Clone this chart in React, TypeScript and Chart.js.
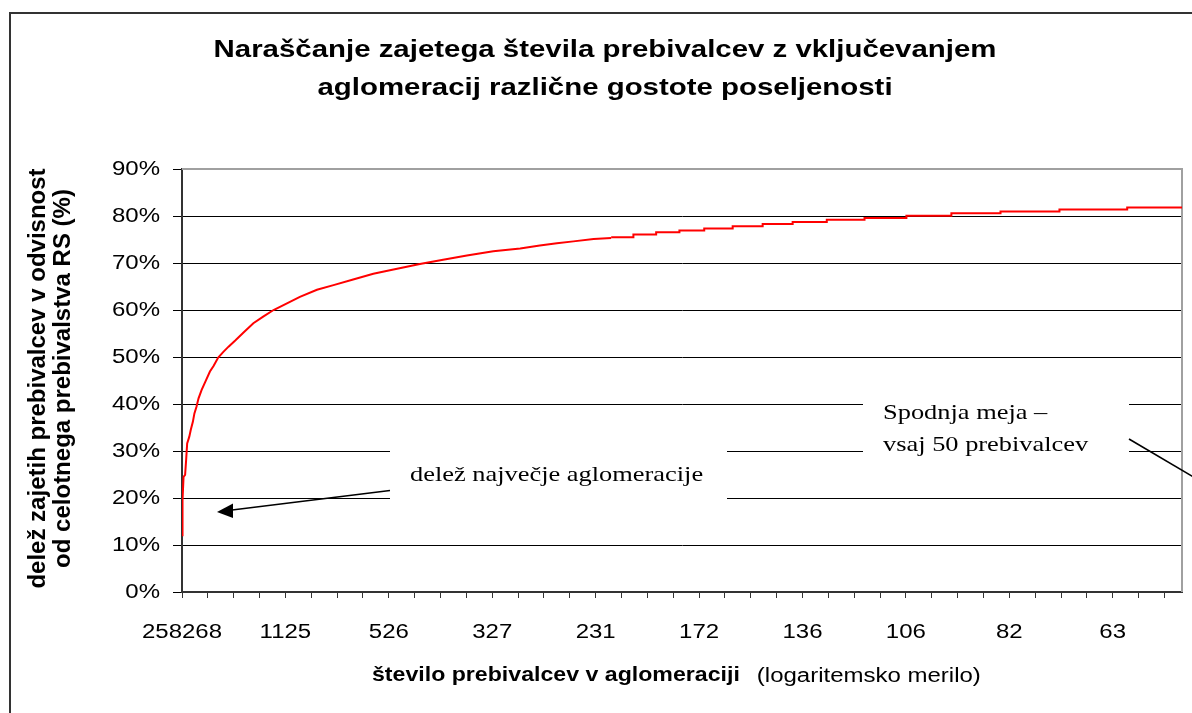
import React, { useEffect, useRef } from 'react';
import { Chart, registerables } from 'chart.js';

Chart.register(...registerables);

// ---------- data ----------
const TITLE_LINES = [
  'Naraščanje zajetega števila prebivalcev z vključevanjem',
  'aglomeracij različne gostote poseljenosti',
];
const Y_TITLE_LINES = ['delež zajetih prebivalcev v odvisnost', 'od celotnega prebivalstva RS (%)'];
const X_TITLE_BOLD = 'število prebivalcev v aglomeraciji';
const X_TITLE_NORMAL = '(logaritemsko merilo)';

// population of the agglomeration shown every 200 ranks
const X_TICK_LABELS = ['258268', '1125', '526', '327', '231', '172', '136', '106', '82', '63'];
const X_LABEL_EVERY = 200;
const X_TICK_STEP = 50;
const X_MAX = 1934; // number of agglomerations - 1

const Y_TICKS = [0, 10, 20, 30, 40, 50, 60, 70, 80, 90];

// rank of agglomeration (0 = largest) and cumulative share of population (%) — steep part
const CURVE_RANKS = [
  0, 1, 3, 6, 8, 10, 14, 17, 21, 24, 28, 32, 38, 45, 54, 61, 70, 80, 90, 103, 119, 138, 157, 177,
  203, 228, 261, 293, 331, 370, 409, 430, 460, 505, 551, 602, 654, 692, 725, 757, 796, 830,
];
const CURVE_SHARES = [
  12.1, 19.6, 24.5, 24.9, 28.1, 31.6, 33.0, 34.5, 36.2, 38.0, 39.4, 41.2, 43.0, 44.7, 46.9, 48.1,
  49.9, 51.1, 52.2, 53.5, 55.2, 57.2, 58.6, 60.0, 61.4, 62.8, 64.3, 65.3, 66.5, 67.7, 68.6, 69.1,
  69.8, 70.7, 71.6, 72.5, 73.1, 73.7, 74.2, 74.6, 75.1, 75.3,
];
// flat tail, drawn as steps (rank where a new level starts, level in %)
const STEP_RANKS = [
  830, 873, 917, 962, 1010, 1065, 1123, 1181, 1247, 1320, 1401, 1488, 1583, 1697, 1828, 1934,
];
const STEP_SHARES = [
  75.5, 76.05, 76.55, 76.9, 77.35, 77.8, 78.3, 78.75, 79.2, 79.6, 80.05, 80.6, 80.95, 81.4, 81.8,
  81.8,
];

const NOTE_LARGEST = 'delež največje aglomeracije';
const NOTE_MIN = ['Spodnja meja –', 'vsaj 50 prebivalcev'];

// ---------- styling ----------
const SANS = '"Liberation Sans", Arial, sans-serif';
const SERIF = '"Liberation Serif", "Times New Roman", serif';
const SX = 1.2; // horizontal stretch of the reference text

function txt(
  ctx: CanvasRenderingContext2D,
  s: string,
  x: number,
  y: number,
  font: string,
  align: CanvasTextAlign = 'center',
  rotate = false,
  sx = SX
) {
  ctx.save();
  ctx.translate(x, y);
  ctx.scale(sx, 1);
  if (rotate) ctx.rotate(-Math.PI / 2);
  ctx.font = font;
  ctx.fillStyle = '#000';
  ctx.textAlign = align;
  ctx.textBaseline = 'middle';
  ctx.fillText(s, 0, 0);
  ctx.restore();
}

function measure(ctx: CanvasRenderingContext2D, s: string, font: string) {
  ctx.save();
  ctx.font = font;
  const w = ctx.measureText(s).width * SX;
  ctx.restore();
  return w;
}

const deco = {
  id: 'deco',
  beforeDraw(chart: any) {
    const ctx: CanvasRenderingContext2D = chart.ctx;
    ctx.save();
    ctx.fillStyle = '#fff';
    ctx.fillRect(0, 0, chart.width, chart.height);
    ctx.strokeStyle = '#333';
    ctx.lineWidth = 2;
    ctx.strokeRect(10, 13, 3000, 3000);
    ctx.restore();
  },
  beforeDatasetsDraw(chart: any) {
    const ctx: CanvasRenderingContext2D = chart.ctx;
    const a = chart.chartArea;
    ctx.save();
    // plot frame top / right
    ctx.strokeStyle = '#a0a0a0';
    ctx.lineWidth = 2;
    ctx.beginPath();
    ctx.moveTo(a.left, a.top);
    ctx.lineTo(a.right, a.top);
    ctx.lineTo(a.right, a.bottom);
    ctx.stroke();
    // annotation boxes
    ctx.fillStyle = '#fff';
    ctx.fillRect(390, 440, 337, 70);
    ctx.fillRect(863, 395, 266, 70);
    ctx.restore();
  },
  afterDraw(chart: any) {
    const ctx: CanvasRenderingContext2D = chart.ctx;
    const xs = chart.scales.x;
    const ys = chart.scales.y;
    const a = chart.chartArea;

    // title
    txt(ctx, TITLE_LINES[0], 605, 50, `bold 24.5px ${SANS}`);
    txt(ctx, TITLE_LINES[1], 605, 88, `bold 24.5px ${SANS}`);

    // y tick labels
    Y_TICKS.forEach((v) => txt(ctx, `${v}%`, 160, ys.getPixelForValue(v), `20px ${SANS}`, 'right'));
    // x tick labels
    X_TICK_LABELS.forEach((l, i) =>
      txt(ctx, l, xs.getPixelForValue(i * X_LABEL_EVERY), 632, `20px ${SANS}`, 'center')
    );

    // y title
    const yc = (a.top + a.bottom) / 2 - 2;
    txt(ctx, Y_TITLE_LINES[0], 38, yc, `bold 24px ${SANS}`, 'center', true, 1);
    txt(ctx, Y_TITLE_LINES[1], 63, yc, `bold 24px ${SANS}`, 'center', true, 1);

    // x title (bold + normal)
    const fb = `bold 19.3px ${SANS}`;
    const fn = `20px ${SANS}`;
    txt(ctx, X_TITLE_BOLD, 372, 676, fb, 'left');
    const wb = measure(ctx, X_TITLE_BOLD, fb);
    txt(ctx, X_TITLE_NORMAL, 372 + wb + 17, 676, fn, 'left');

    // annotation texts
    txt(ctx, NOTE_LARGEST, 410, 475, `22px ${SERIF}`, 'left');
    txt(ctx, NOTE_MIN[0], 883, 413, `22px ${SERIF}`, 'left');
    txt(ctx, NOTE_MIN[1], 883, 445, `22px ${SERIF}`, 'left');

    // arrows
    ctx.save();
    ctx.strokeStyle = '#000';
    ctx.fillStyle = '#000';
    ctx.lineWidth = 1.6;
    ctx.beginPath();
    ctx.moveTo(390, 490.5);
    ctx.lineTo(228, 510.5);
    ctx.stroke();
    ctx.beginPath();
    ctx.moveTo(217, 512);
    ctx.lineTo(233, 503.5);
    ctx.lineTo(233, 518);
    ctx.closePath();
    ctx.fill();

    ctx.beginPath();
    ctx.moveTo(1129, 439);
    ctx.lineTo(1240, 504.5);
    ctx.stroke();
    ctx.restore();
  },
};

export default function App() {
  const ref = useRef<HTMLCanvasElement | null>(null);

  useEffect(() => {
    if (!ref.current) return;
    const curve = CURVE_RANKS.map((r, i) => ({ x: r, y: CURVE_SHARES[i] }));
    const steps = STEP_RANKS.map((r, i) => ({ x: r, y: STEP_SHARES[i] }));
    const line = {
      borderColor: '#ff0000',
      borderWidth: 2,
      pointRadius: 0,
      fill: false,
      tension: 0,
    };
    const chart = new Chart(ref.current, {
      type: 'line',
      data: {
        datasets: [
          { ...line, data: curve, stepped: false },
          { ...line, data: steps, stepped: true },
        ],
      },
      options: {
        responsive: false,
        animation: false,
        events: [],
        layout: { padding: { top: 169, left: 172, right: 10, bottom: 111 } },
        plugins: {
          legend: { display: false },
          tooltip: { enabled: false },
          title: { display: false },
        },
        scales: {
          x: {
            type: 'linear',
            min: 0,
            max: X_MAX,
            afterFit: (s: any) => {
              s.height = 10;
            },
            grid: { drawOnChartArea: false, drawTicks: true, tickLength: 6, color: '#333', lineWidth: 1 },
            border: { display: true, color: '#333', width: 2 },
            ticks: { display: false, stepSize: X_TICK_STEP, includeBounds: false },
          },
          y: {
            min: 0,
            max: 90,
            afterFit: (s: any) => {
              s.width = 10;
            },
            grid: {
              color: (c: any) => (c.tick && c.tick.value === 90 ? 'rgba(0,0,0,0)' : '#000'),
              tickColor: '#000',
              tickLength: 9,
              lineWidth: 1,
            },
            border: { display: true, color: '#333', width: 2 },
            ticks: { display: false, stepSize: 10 },
          },
        },
      } as any,
      plugins: [deco],
    });
    return () => chart.destroy();
  }, []);

  return (
    <div
      style={{
        position: 'fixed',
        left: 0,
        top: 0,
        width: 1192,
        height: 713,
        overflow: 'hidden',
        background: '#fff',
      }}
    >
      <canvas ref={ref} width={1192} height={713} style={{ display: 'block' }} />
    </div>
  );
}
